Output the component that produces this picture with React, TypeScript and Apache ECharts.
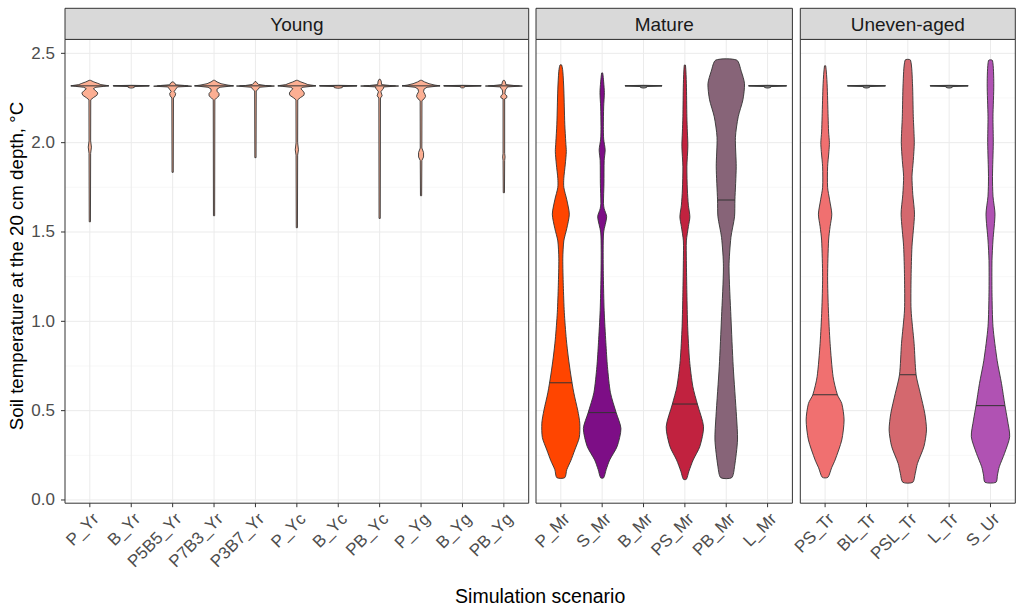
import React, { useEffect, useRef } from 'react';
import * as echarts from 'echarts';

// ---------- data ----------
const youngCategories = ['P_Yr', 'B_Yr', 'P5B5_Yr', 'P7B3_Yr', 'P3B7_Yr', 'P_Yc', 'B_Yc', 'PB_Yc', 'P_Yg', 'B_Yg', 'PB_Yg'];
const matureCategories = ['P_Mr', 'S_Mr', 'B_Mr', 'PS_Mr', 'PB_Mr', 'L_Mr'];
const unevenCategories = ['PS_Tr', 'BL_Tr', 'PSL_Tr', 'L_Tr', 'S_Ur'];

const youngMedians = [2.318, 2.318, 2.318, 2.318, 2.318, 2.318, 2.318, 2.318, 2.318, 2.318, 2.318];
const matureMedians = [0.656, 0.489, 2.318, 0.537, 1.679, 2.318];
const unevenMedians = [0.589, 2.318, 0.701, 2.318, 0.528];

// density profiles: [temperature °C, half-width of the density]
const P_Yr = [[1.557, 0.6], [1.94, 0.8], [1.975, 1.6], [2.01, 0.8], [2.24, 0.9], [2.252, 3.5], [2.265, 7], [2.278, 8], [2.29, 6], [2.302, 3.5], [2.31, 6], [2.315, 14], [2.318, 19], [2.32, 17], [2.325, 11], [2.332, 8], [2.34, 4], [2.349, 0.6]];
const B_Yr = [[2.306, 1], [2.309, 3], [2.314, 3], [2.317, 18], [2.319, 18], [2.321, 0.5]];
const P5B5_Yr = [[1.834, 0.6], [2.25, 0.8], [2.262, 2.5], [2.275, 3], [2.287, 1.5], [2.298, 3], [2.306, 4], [2.312, 5], [2.316, 19], [2.32, 12], [2.324, 3], [2.334, 2], [2.34, 0.5]];
const P7B3_Yr = [[1.591, 0.6], [2.24, 0.8], [2.25, 2.5], [2.262, 5], [2.275, 5], [2.288, 3], [2.3, 3], [2.31, 6], [2.315, 14], [2.318, 19.5], [2.322, 14], [2.33, 7], [2.34, 3], [2.349, 0.6]];
const P3B7_Yr = [[1.916, 0.6], [2.29, 0.8], [2.3, 3], [2.31, 4], [2.317, 19], [2.32, 10], [2.326, 3], [2.335, 1.5], [2.342, 0.5]];
const P_Yc = [[1.524, 0.6], [1.93, 0.8], [1.96, 1.6], [2.0, 0.8], [2.24, 0.9], [2.252, 3.5], [2.265, 7], [2.278, 7.5], [2.29, 6], [2.302, 4], [2.31, 6], [2.315, 14], [2.318, 19], [2.32, 17], [2.325, 11], [2.332, 8], [2.34, 4], [2.349, 0.6]];
const B_Yc = [[2.305, 1], [2.308, 4], [2.314, 4], [2.317, 18.7], [2.319, 18.7], [2.321, 0.5]];
const PB_Yc = [[1.576, 0.6], [2.25, 0.8], [2.262, 2.5], [2.272, 2], [2.285, 1.2], [2.298, 3], [2.306, 4], [2.312, 4], [2.317, 19], [2.32, 10], [2.325, 2], [2.345, 1.5], [2.355, 0.5]];
const P_Yg = [[1.703, 0.6], [1.9, 0.8], [1.92, 2.5], [1.945, 2.5], [1.97, 0.8], [2.235, 0.9], [2.245, 3], [2.258, 4.5], [2.27, 4], [2.285, 2.5], [2.3, 3], [2.31, 6], [2.315, 14], [2.318, 19], [2.322, 14], [2.33, 8], [2.34, 3.5], [2.349, 0.6]];
const B_Yg = [[2.307, 1], [2.31, 2], [2.314, 2], [2.317, 18.7], [2.319, 18.7], [2.321, 0.5]];
const PB_Yg = [[1.72, 0.6], [1.9, 0.8], [1.92, 1.2], [1.94, 0.8], [2.245, 0.8], [2.252, 3], [2.262, 3], [2.272, 1], [2.295, 1.5], [2.305, 3], [2.312, 3.5], [2.317, 18.5], [2.32, 10], [2.325, 2], [2.34, 1.5], [2.349, 0.5]];

const P_Mr = [[0.125, 4], [0.17, 6], [0.22, 10], [0.28, 14], [0.35, 18.5], [0.43, 19], [0.5, 17], [0.6, 13], [0.7, 10], [0.8, 7.5], [0.9, 5.5], [1.05, 3.5], [1.2, 2.5], [1.35, 2], [1.45, 3], [1.52, 6], [1.6, 8.5], [1.68, 6], [1.75, 3], [1.8, 3], [1.88, 4.5], [1.95, 5.5], [2.0, 5], [2.1, 4], [2.2, 3.5], [2.3, 3], [2.4, 2], [2.435, 0.8]];
const S_Mr = [[0.124, 1.5], [0.17, 4], [0.224, 7.5], [0.3, 15], [0.4, 18.8], [0.489, 14], [0.6, 8.3], [0.746, 5.3], [0.88, 3.7], [1.06, 2], [1.25, 1.2], [1.4, 1], [1.5, 1.5], [1.585, 4.5], [1.63, 2], [1.66, 1.3], [1.77, 1.8], [1.9, 2], [1.96, 3], [2.02, 1.5], [2.09, 1.2], [2.2, 1.5], [2.28, 2.2], [2.34, 1.5], [2.39, 0.5]];
const B_Mr = [[2.306, 1], [2.309, 3], [2.314, 3], [2.317, 18.5], [2.319, 18.5], [2.321, 0.5]];
const PS_Mr = [[0.116, 1.5], [0.16, 4], [0.224, 8.3], [0.3, 15], [0.41, 18.7], [0.537, 12.5], [0.634, 8], [0.78, 4.7], [0.97, 2.8], [1.16, 2], [1.34, 1.5], [1.45, 1.5], [1.53, 3.5], [1.585, 5], [1.65, 3.5], [1.735, 2.5], [1.865, 2], [1.98, 3], [2.06, 2.5], [2.145, 2], [2.33, 1.5], [2.434, 0.6]];
const PB_Mr = [[0.125, 5.5], [0.186, 8.3], [0.336, 11.3], [0.466, 10.3], [0.746, 7], [1.026, 4.7], [1.305, 2.8], [1.47, 4.7], [1.585, 8.3], [1.68, 8.7], [1.865, 10], [2.03, 9.2], [2.145, 12], [2.24, 16.7], [2.33, 18.3], [2.4, 15], [2.462, 10.5]];
const L_Mr = [[2.306, 1], [2.309, 3], [2.314, 3], [2.317, 19], [2.319, 19], [2.321, 0.5]];

const PS_Tr = [[0.127, 2.8], [0.18, 6.5], [0.224, 10], [0.336, 16.7], [0.448, 19], [0.54, 16.7], [0.589, 12.3], [0.69, 8], [0.877, 5], [1.063, 3.3], [1.25, 2.5], [1.455, 3.5], [1.53, 5], [1.6, 6.7], [1.68, 4.5], [1.75, 2.5], [1.865, 2.5], [1.95, 3.8], [2.0, 4.3], [2.06, 3.5], [2.145, 3], [2.33, 2], [2.43, 0.6]];
const BL_Tr = [[2.306, 1], [2.309, 3], [2.314, 3], [2.317, 19], [2.319, 19], [2.321, 0.5]];
const PSL_Tr = [[0.099, 5], [0.15, 7.5], [0.205, 9.7], [0.3, 16.2], [0.392, 18.7], [0.485, 17], [0.597, 12.5], [0.701, 8.3], [0.877, 6.3], [1.063, 3.3], [1.25, 3.3], [1.42, 4.2], [1.6, 6.7], [1.71, 5], [1.81, 4.2], [1.9, 5.5], [2.0, 6.5], [2.145, 5.5], [2.33, 4.7], [2.462, 2.7]];
const L_Tr = [[2.306, 1], [2.309, 3], [2.314, 3], [2.317, 19], [2.319, 19], [2.321, 0.5]];
const S_Ur = [[0.099, 5.5], [0.14, 7], [0.186, 8.8], [0.26, 14], [0.354, 19.2], [0.448, 17], [0.528, 14.5], [0.653, 11], [0.78, 6.7], [0.97, 2.5], [1.16, 1.5], [1.34, 1.5], [1.455, 2.5], [1.6, 4.5], [1.7, 2.5], [1.81, 2], [2.0, 2.8], [2.145, 2.5], [2.33, 3.3], [2.46, 2]];

const youngProfiles = [P_Yr, B_Yr, P5B5_Yr, P7B3_Yr, P3B7_Yr, P_Yc, B_Yc, PB_Yc, P_Yg, B_Yg, PB_Yg];
const matureProfiles = [P_Mr, S_Mr, B_Mr, PS_Mr, PB_Mr, L_Mr];
const unevenProfiles = [PS_Tr, BL_Tr, PSL_Tr, L_Tr, S_Ur];

const youngColors = youngCategories.map(() => '#FCAF93');
const matureColors = ['#FF4500', '#7D0E86', '#8A8A8A', '#C1223F', '#876478', '#8A8A8A'];
const unevenColors = ['#F07070', '#8A8A8A', '#D4686E', '#8A8A8A', '#B052B3'];

const panelTitles = ['Young', 'Mature', 'Uneven-aged'];
const yTicks = [0, 0.5, 1, 1.5, 2, 2.5];
const yMinorTicks = [0.25, 0.75, 1.25, 1.75, 2.25];
const Y_MIN = -0.018;
const Y_MAX = 2.578;

// ---------- layout ----------
const FONT = '"Liberation Sans", Arial, Helvetica, sans-serif';
const PLOT_TOP = 39.4;
const PLOT_H = 463.8;
const STRIP_TOP = 8.3;
const PANELS = [
  { left: 65, width: 463.7 },
  { left: 536, width: 256.4 },
  { left: 800.3, width: 215 },
];
const DENSITY_TO_X = 1 / 41.4;
const OUTLINE = '#333333';
const TICK_LEN = 4;

function widthAt(prof: number[][], v: number): number {
  for (let k = 0; k < prof.length - 1; k++) {
    const [v0, w0] = prof[k];
    const [v1, w1] = prof[k + 1];
    if (v >= v0 && v <= v1) {
      const t = v1 === v0 ? 0 : (v - v0) / (v1 - v0);
      return w0 + t * (w1 - w0);
    }
  }
  return 0;
}

function violinSeries(gi: number, profiles: number[][][], medians: number[], colors: string[]) {
  return {
    type: 'custom',
    xAxisIndex: gi,
    yAxisIndex: gi,
    z: 3,
    silent: true,
    data: medians.map((m, i) => [i, m]),
    renderItem: (params: any, api: any) => {
      const idx = params.dataIndex;
      const i = api.value(0);
      const med = api.value(1);
      const prof = profiles[idx];
      const right = prof.map(([v, w]) => api.coord([i + w * DENSITY_TO_X, v]));
      const left = prof
        .slice()
        .reverse()
        .map(([v, w]) => api.coord([i - w * DENSITY_TO_X, v]));
      const span = prof[prof.length - 1][0] - prof[0][0];
      const smooth = span > 1 ? 0.25 : 0;
      const mw = widthAt(prof, med);
      const a = api.coord([i - mw * DENSITY_TO_X, med]);
      const b = api.coord([i + mw * DENSITY_TO_X, med]);
      return {
        type: 'group',
        children: [
          {
            type: 'polygon',
            shape: { points: right.concat(left), smooth },
            style: { fill: colors[idx], stroke: OUTLINE, lineWidth: 0.9 },
          },
          {
            type: 'line',
            shape: { x1: a[0], y1: a[1], x2: b[0], y2: b[1] },
            style: { stroke: OUTLINE, lineWidth: 1 },
          },
        ],
      };
    },
  };
}

// kinds: 0 major y grid, 1 minor y grid, 2 x grid, 3 x tick, 4 y tick
function gridLineSeries(gi: number, n: number) {
  const items: number[][] = [];
  yTicks.forEach((v) => items.push([0, v, 0]));
  yMinorTicks.forEach((v) => items.push([0, v, 1]));
  for (let i = 0; i < n; i++) items.push([i, 0, 2]);
  for (let i = 0; i < n; i++) items.push([i, 0, 3]);
  if (gi === 0) yTicks.forEach((v) => items.push([0, v, 4]));
  return {
    type: 'custom',
    xAxisIndex: gi,
    yAxisIndex: gi,
    z: 1,
    silent: true,
    clip: false,
    data: items,
    renderItem: (params: any, api: any) => {
      const cs = params.coordSys;
      const kind = api.value(2);
      if (kind === 2 || kind === 3) {
        const x = api.coord([api.value(0), 0])[0];
        if (kind === 3) {
          return {
            type: 'line',
            shape: { x1: x, y1: cs.y + cs.height, x2: x, y2: cs.y + cs.height + TICK_LEN },
            style: { stroke: OUTLINE, lineWidth: 1 },
          };
        }
        return {
          type: 'line',
          shape: { x1: x, y1: cs.y, x2: x, y2: cs.y + cs.height },
          style: { stroke: '#EBEBEB', lineWidth: 1 },
        };
      }
      const y = api.coord([0, api.value(1)])[1];
      if (kind === 4) {
        return {
          type: 'line',
          shape: { x1: cs.x - TICK_LEN, y1: y, x2: cs.x, y2: y },
          style: { stroke: OUTLINE, lineWidth: 1 },
        };
      }
      return {
        type: 'line',
        shape: { x1: cs.x, y1: y, x2: cs.x + cs.width, y2: y },
        style: { stroke: kind === 0 ? '#EBEBEB' : '#F3F3F3', lineWidth: kind === 0 ? 1 : 0.6 },
      };
    },
  };
}

const allCats = [youngCategories, matureCategories, unevenCategories];

function buildOption() {
  const grids = PANELS.map((p) => ({
    left: p.left,
    top: PLOT_TOP,
    width: p.width,
    height: PLOT_H,
    containLabel: false,
    show: true,
    backgroundColor: '#FFFFFF',
    borderWidth: 0,
  }));
  const xAxes = allCats.map((cats, gi) => {
    const idx = cats.map((_, i) => i);
    return {
      type: 'value',
      gridIndex: gi,
      min: -0.6,
      max: cats.length - 0.4,
      axisLine: { show: false },
      splitLine: { show: false },
      minorSplitLine: { show: false },
      axisTick: { show: false },
      axisLabel: {
        show: true,
        customValues: idx,
        formatter: (v: number) => cats[Math.round(v)] ?? '',
        rotate: 45,
        fontSize: 17,
        color: '#4D4D4D',
        fontFamily: FONT,
        margin: 7,
        verticalAlign: 'top',
      },
    };
  });
  const yAxes = PANELS.map((_, gi) => ({
    type: 'value',
    gridIndex: gi,
    min: Y_MIN,
    max: Y_MAX,
    axisLine: { show: false },
    splitLine: { show: false },
    axisTick: { show: false },
    axisLabel: {
      show: gi === 0,
      customValues: yTicks,
      formatter: (v: number) => v.toFixed(1),
      fontSize: 17,
      color: '#4D4D4D',
      fontFamily: FONT,
      margin: 10,
    },
  }));

  const graphics: any[] = [];
  PANELS.forEach((p, gi) => {
    graphics.push({
      type: 'rect',
      z: 100,
      silent: true,
      shape: { x: p.left, y: PLOT_TOP, width: p.width, height: PLOT_H },
      style: { fill: 'none', stroke: OUTLINE, lineWidth: 1 },
    });
    graphics.push({
      type: 'rect',
      z: 100,
      silent: true,
      shape: { x: p.left, y: STRIP_TOP, width: p.width, height: PLOT_TOP - STRIP_TOP },
      style: { fill: '#D9D9D9', stroke: OUTLINE, lineWidth: 1 },
    });
    graphics.push({
      type: 'text',
      z: 101,
      silent: true,
      x: p.left + p.width / 2,
      y: (STRIP_TOP + PLOT_TOP) / 2 + 0.5,
      style: {
        text: panelTitles[gi],
        fontSize: 19,
        fontFamily: FONT,
        fill: '#1A1A1A',
        align: 'center',
        verticalAlign: 'middle',
      },
    });
  });
  graphics.push({
    type: 'text',
    silent: true,
    x: 16.5,
    y: 266,
    rotation: Math.PI / 2,
    style: {
      text: 'Soil temperature at the 20 cm depth, °C',
      fontSize: 18.7,
      fontFamily: FONT,
      fill: '#000000',
      align: 'center',
      verticalAlign: 'middle',
    },
  });
  graphics.push({
    type: 'text',
    silent: true,
    x: (PANELS[0].left + PANELS[2].left + PANELS[2].width) / 2,
    y: 595.5,
    style: {
      text: 'Simulation scenario',
      fontSize: 19.5,
      fontFamily: FONT,
      fill: '#000000',
      align: 'center',
      verticalAlign: 'middle',
    },
  });

  return {
    animation: false,
    backgroundColor: '#FFFFFF',
    textStyle: { fontFamily: FONT },
    grid: grids,
    xAxis: xAxes,
    yAxis: yAxes,
    graphic: graphics,
    series: [
      gridLineSeries(0, youngCategories.length),
      gridLineSeries(1, matureCategories.length),
      gridLineSeries(2, unevenCategories.length),
      violinSeries(0, youngProfiles, youngMedians, youngColors),
      violinSeries(1, matureProfiles, matureMedians, matureColors),
      violinSeries(2, unevenProfiles, unevenMedians, unevenColors),
    ],
  };
}

export default function App() {
  const ref = useRef<HTMLDivElement>(null);
  useEffect(() => {
    if (!ref.current) return;
    const chart = echarts.init(ref.current, undefined, { renderer: 'svg' });
    chart.setOption(buildOption() as any);
    return () => chart.dispose();
  }, []);
  return (
    <div
      ref={ref}
      style={{ position: 'fixed', left: 0, top: 0, width: 1024, height: 614, background: '#fff' }}
    />
  );
}
